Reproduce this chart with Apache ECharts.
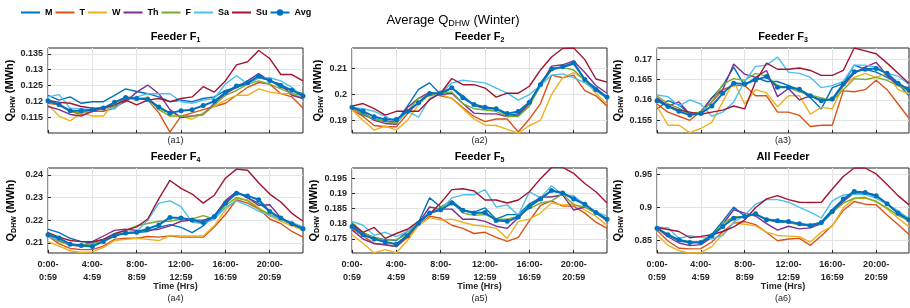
<!DOCTYPE html>
<html>
<head>
<meta charset="utf-8">
<script src="https://cdn.jsdelivr.net/npm/echarts@6/dist/echarts.min.js"></script>
<style>
html, body { margin: 0; padding: 0; background: #fff; }
#chart { width: 910px; height: 308px; }
</style>
</head>
<body>
<div id="chart"></div>
<script>
// hourly buckets 0:00-0:59 ... 23:00-23:59
const hours = [0, 1, 2, 3, 4, 5, 6, 7, 8, 9, 10, 11, 12, 13, 14, 15, 16, 17, 18, 19, 20, 21, 22, 23];
const xTicks = [0, 4, 8, 12, 16, 20];
const dayNames = ['M', 'T', 'W', 'Th', 'F', 'Sa', 'Su', 'Avg'];

// Feeder F1
const f1M = [0.1220, 0.1205, 0.1215, 0.1195, 0.1200, 0.1200, 0.1220, 0.1240, 0.1232, 0.1225, 0.1215, 0.1200, 0.1205, 0.1200, 0.1210, 0.1215, 0.1235, 0.1245, 0.1255, 0.1275, 0.1268, 0.1245, 0.1235, 0.1225];
const f1T = [0.1195, 0.1190, 0.1170, 0.1160, 0.1170, 0.1170, 0.1180, 0.1205, 0.1210, 0.1205, 0.1165, 0.1105, 0.1155, 0.1165, 0.1175, 0.1185, 0.1195, 0.1220, 0.1245, 0.1260, 0.1255, 0.1225, 0.1215, 0.1180];
const f1W = [0.1190, 0.1155, 0.1140, 0.1165, 0.1155, 0.1155, 0.1200, 0.1210, 0.1205, 0.1215, 0.1175, 0.1165, 0.1155, 0.1145, 0.1165, 0.1185, 0.1205, 0.1220, 0.1220, 0.1240, 0.1230, 0.1225, 0.1225, 0.1210];
const f1Th = [0.1185, 0.1175, 0.1160, 0.1155, 0.1170, 0.1180, 0.1185, 0.1200, 0.1230, 0.1252, 0.1225, 0.1175, 0.1150, 0.1155, 0.1160, 0.1195, 0.1225, 0.1245, 0.1265, 0.1288, 0.1265, 0.1255, 0.1220, 0.1210];
const f1F = [0.1200, 0.1190, 0.1170, 0.1165, 0.1175, 0.1180, 0.1185, 0.1215, 0.1210, 0.1210, 0.1175, 0.1155, 0.1155, 0.1155, 0.1160, 0.1190, 0.1220, 0.1235, 0.1255, 0.1265, 0.1255, 0.1240, 0.1225, 0.1220];
const f1Sa = [0.1215, 0.1222, 0.1180, 0.1178, 0.1175, 0.1185, 0.1177, 0.1210, 0.1215, 0.1225, 0.1225, 0.1225, 0.1200, 0.1195, 0.1205, 0.1210, 0.1255, 0.1282, 0.1255, 0.1275, 0.1275, 0.1265, 0.1245, 0.1215];
const f1Su = [0.1205, 0.1198, 0.1195, 0.1185, 0.1180, 0.1180, 0.1190, 0.1205, 0.1190, 0.1205, 0.1210, 0.1200, 0.1210, 0.1215, 0.1247, 0.1230, 0.1265, 0.1315, 0.1325, 0.1360, 0.1335, 0.1285, 0.1285, 0.1265];
const f1Avg = [0.1203, 0.1191, 0.1172, 0.1172, 0.1175, 0.1180, 0.1198, 0.1213, 0.1210, 0.1208, 0.1183, 0.1164, 0.1172, 0.1175, 0.1188, 0.1201, 0.1229, 0.1249, 0.1259, 0.1280, 0.1266, 0.1251, 0.1236, 0.1218];

// Feeder F2
const f2M = [0.1950, 0.1920, 0.1905, 0.1895, 0.1895, 0.1955, 0.2020, 0.2045, 0.2000, 0.2025, 0.1995, 0.1958, 0.1945, 0.1945, 0.1920, 0.1925, 0.1965, 0.2045, 0.2100, 0.2105, 0.2118, 0.2058, 0.2025, 0.1990];
const f2T = [0.1940, 0.1915, 0.1880, 0.1875, 0.1875, 0.1925, 0.1970, 0.2005, 0.1995, 0.1985, 0.1950, 0.1915, 0.1895, 0.1905, 0.1905, 0.1855, 0.1905, 0.1965, 0.2075, 0.2065, 0.2075, 0.2015, 0.1995, 0.1955];
const f2W = [0.1940, 0.1900, 0.1862, 0.1878, 0.1862, 0.1900, 0.1960, 0.2000, 0.2000, 0.1985, 0.1945, 0.1905, 0.1882, 0.1880, 0.1865, 0.1850, 0.1880, 0.1900, 0.2000, 0.2065, 0.2085, 0.2055, 0.2005, 0.1963];
const f2Th = [0.1945, 0.1930, 0.1900, 0.1888, 0.1885, 0.1950, 0.1985, 0.2008, 0.2000, 0.2005, 0.1965, 0.1928, 0.1925, 0.1925, 0.1915, 0.1920, 0.1965, 0.2035, 0.2110, 0.2115, 0.2130, 0.2085, 0.2035, 0.2005];
const f2F = [0.1948, 0.1925, 0.1905, 0.1895, 0.1890, 0.1935, 0.1985, 0.1995, 0.2005, 0.2010, 0.1965, 0.1945, 0.1940, 0.1935, 0.1915, 0.1915, 0.1955, 0.2035, 0.2095, 0.2105, 0.2095, 0.2055, 0.2015, 0.1985];
const f2Sa = [0.1950, 0.1945, 0.1935, 0.1915, 0.1895, 0.1935, 0.1912, 0.1985, 0.2005, 0.2045, 0.2055, 0.2050, 0.2045, 0.2025, 0.2005, 0.1978, 0.2000, 0.2035, 0.2075, 0.2080, 0.2065, 0.2045, 0.2015, 0.1990];
const f2Su = [0.1955, 0.1965, 0.1945, 0.1920, 0.1935, 0.1935, 0.1935, 0.1980, 0.2005, 0.2062, 0.2038, 0.2038, 0.2025, 0.1990, 0.2005, 0.2005, 0.2032, 0.2095, 0.2145, 0.2178, 0.2180, 0.2135, 0.2060, 0.2048];
const f2Avg = [0.1951, 0.1935, 0.1914, 0.1903, 0.1903, 0.1935, 0.1968, 0.2004, 0.2006, 0.2026, 0.1987, 0.1961, 0.1951, 0.1945, 0.1926, 0.1934, 0.1970, 0.2039, 0.2099, 0.2107, 0.2123, 0.2058, 0.2019, 0.1990];

// Feeder F3
const f3M = [0.1578, 0.1598, 0.1588, 0.1565, 0.1570, 0.1605, 0.1635, 0.1680, 0.1635, 0.1655, 0.1645, 0.1645, 0.1635, 0.1625, 0.1605, 0.1578, 0.1630, 0.1640, 0.1685, 0.1675, 0.1668, 0.1655, 0.1640, 0.1610];
const f3T = [0.1590, 0.1570, 0.1560, 0.1550, 0.1572, 0.1595, 0.1625, 0.1635, 0.1635, 0.1610, 0.1610, 0.1570, 0.1570, 0.1562, 0.1535, 0.1538, 0.1538, 0.1622, 0.1620, 0.1625, 0.1648, 0.1625, 0.1590, 0.1555];
const f3W = [0.1585, 0.1538, 0.1538, 0.1520, 0.1530, 0.1545, 0.1595, 0.1645, 0.1590, 0.1625, 0.1617, 0.1583, 0.1610, 0.1610, 0.1565, 0.1582, 0.1578, 0.1635, 0.1655, 0.1665, 0.1655, 0.1665, 0.1625, 0.1615];
const f3Th = [0.1605, 0.1585, 0.1595, 0.1565, 0.1570, 0.1605, 0.1625, 0.1688, 0.1663, 0.1655, 0.1672, 0.1608, 0.1628, 0.1600, 0.1610, 0.1600, 0.1600, 0.1635, 0.1665, 0.1680, 0.1692, 0.1660, 0.1635, 0.1630];
const f3F = [0.1610, 0.1590, 0.1580, 0.1565, 0.1570, 0.1595, 0.1638, 0.1652, 0.1648, 0.1665, 0.1658, 0.1635, 0.1630, 0.1620, 0.1612, 0.1605, 0.1598, 0.1625, 0.1652, 0.1650, 0.1655, 0.1648, 0.1635, 0.1622];
const f3Sa = [0.1612, 0.1608, 0.1585, 0.1600, 0.1590, 0.1560, 0.1570, 0.1595, 0.1645, 0.1682, 0.1685, 0.1705, 0.1668, 0.1665, 0.1655, 0.1630, 0.1635, 0.1645, 0.1685, 0.1685, 0.1680, 0.1665, 0.1658, 0.1638];
const f3Su = [0.1600, 0.1585, 0.1575, 0.1570, 0.1565, 0.1570, 0.1575, 0.1585, 0.1578, 0.1645, 0.1690, 0.1675, 0.1675, 0.1678, 0.1672, 0.1660, 0.1660, 0.1672, 0.1727, 0.1720, 0.1713, 0.1690, 0.1665, 0.1640];
const f3Avg = [0.1598, 0.1584, 0.1572, 0.1563, 0.1567, 0.1585, 0.1616, 0.1641, 0.1639, 0.1649, 0.1657, 0.1631, 0.1631, 0.1626, 0.1610, 0.1598, 0.1602, 0.1639, 0.1669, 0.1675, 0.1677, 0.1665, 0.1641, 0.1624];

// Feeder F4
const f4M = [0.2160, 0.2145, 0.2120, 0.2105, 0.2100, 0.2115, 0.2135, 0.2140, 0.2145, 0.2150, 0.2168, 0.2180, 0.2168, 0.2145, 0.2175, 0.2220, 0.2285, 0.2325, 0.2298, 0.2275, 0.2240, 0.2205, 0.2180, 0.2160];
const f4T = [0.2130, 0.2095, 0.2075, 0.2070, 0.2070, 0.2085, 0.2115, 0.2120, 0.2120, 0.2128, 0.2125, 0.2130, 0.2125, 0.2125, 0.2125, 0.2170, 0.2225, 0.2290, 0.2275, 0.2250, 0.2205, 0.2185, 0.2150, 0.2125];
const f4W = [0.2105, 0.2085, 0.2065, 0.2058, 0.2060, 0.2080, 0.2110, 0.2115, 0.2120, 0.2115, 0.2110, 0.2132, 0.2130, 0.2130, 0.2130, 0.2175, 0.2245, 0.2295, 0.2290, 0.2255, 0.2220, 0.2195, 0.2175, 0.2155];
const f4Th = [0.2135, 0.2110, 0.2090, 0.2085, 0.2105, 0.2130, 0.2155, 0.2160, 0.2155, 0.2155, 0.2160, 0.2175, 0.2195, 0.2200, 0.2200, 0.2215, 0.2285, 0.2325, 0.2300, 0.2265, 0.2268, 0.2210, 0.2185, 0.2165];
const f4F = [0.2135, 0.2105, 0.2090, 0.2090, 0.2095, 0.2110, 0.2140, 0.2155, 0.2175, 0.2185, 0.2195, 0.2195, 0.2205, 0.2205, 0.2220, 0.2205, 0.2265, 0.2300, 0.2285, 0.2250, 0.2225, 0.2205, 0.2185, 0.2160];
const f4Sa = [0.2125, 0.2115, 0.2095, 0.2085, 0.2090, 0.2105, 0.2135, 0.2145, 0.2150, 0.2200, 0.2275, 0.2285, 0.2260, 0.2190, 0.2185, 0.2205, 0.2255, 0.2285, 0.2265, 0.2240, 0.2220, 0.2205, 0.2190, 0.2170];
const f4Su = [0.2145, 0.2125, 0.2110, 0.2105, 0.2105, 0.2115, 0.2140, 0.2155, 0.2170, 0.2205, 0.2295, 0.2375, 0.2340, 0.2315, 0.2275, 0.2310, 0.2385, 0.2425, 0.2420, 0.2365, 0.2315, 0.2280, 0.2230, 0.2195];
const f4Avg = [0.2135, 0.2121, 0.2094, 0.2088, 0.2084, 0.2106, 0.2131, 0.2143, 0.2146, 0.2162, 0.2179, 0.2212, 0.2209, 0.2201, 0.2190, 0.2216, 0.2275, 0.2319, 0.2307, 0.2290, 0.2238, 0.2209, 0.2184, 0.2162];

// Feeder F5
const f5M = [0.1795, 0.1770, 0.1755, 0.1748, 0.1745, 0.1775, 0.1805, 0.1885, 0.1855, 0.1875, 0.1845, 0.1838, 0.1852, 0.1815, 0.1830, 0.1830, 0.1865, 0.1885, 0.1908, 0.1900, 0.1885, 0.1865, 0.1835, 0.1815];
const f5T = [0.1785, 0.1760, 0.1735, 0.1730, 0.1725, 0.1755, 0.1795, 0.1825, 0.1818, 0.1795, 0.1785, 0.1768, 0.1772, 0.1755, 0.1742, 0.1755, 0.1810, 0.1860, 0.1875, 0.1858, 0.1858, 0.1835, 0.1805, 0.1785];
const f5W = [0.1765, 0.1735, 0.1705, 0.1715, 0.1705, 0.1745, 0.1795, 0.1820, 0.1812, 0.1815, 0.1805, 0.1795, 0.1792, 0.1785, 0.1752, 0.1808, 0.1815, 0.1835, 0.1868, 0.1862, 0.1865, 0.1845, 0.1825, 0.1795];
const f5Th = [0.1780, 0.1750, 0.1735, 0.1732, 0.1725, 0.1760, 0.1802, 0.1855, 0.1848, 0.1848, 0.1815, 0.1815, 0.1808, 0.1792, 0.1785, 0.1820, 0.1855, 0.1888, 0.1888, 0.1895, 0.1845, 0.1855, 0.1835, 0.1810];
const f5F = [0.1805, 0.1770, 0.1755, 0.1745, 0.1748, 0.1765, 0.1805, 0.1835, 0.1855, 0.1872, 0.1835, 0.1828, 0.1830, 0.1815, 0.1815, 0.1825, 0.1850, 0.1868, 0.1875, 0.1898, 0.1862, 0.1855, 0.1835, 0.1815];
const f5Sa = [0.1808, 0.1795, 0.1762, 0.1772, 0.1758, 0.1775, 0.1805, 0.1838, 0.1845, 0.1885, 0.1895, 0.1895, 0.1912, 0.1855, 0.1862, 0.1828, 0.1905, 0.1885, 0.1925, 0.1895, 0.1892, 0.1862, 0.1840, 0.1825];
const f5Su = [0.1800, 0.1772, 0.1788, 0.1752, 0.1768, 0.1782, 0.1808, 0.1832, 0.1868, 0.1912, 0.1915, 0.1908, 0.1878, 0.1878, 0.1868, 0.1878, 0.1905, 0.1948, 0.1985, 0.1985, 0.1965, 0.1932, 0.1905, 0.1868];
const f5Avg = [0.1791, 0.1764, 0.1750, 0.1740, 0.1733, 0.1761, 0.1802, 0.1835, 0.1846, 0.1868, 0.1844, 0.1835, 0.1837, 0.1811, 0.1808, 0.1822, 0.1857, 0.1881, 0.1909, 0.1901, 0.1881, 0.1864, 0.1837, 0.1815];

// All feeders
const f6M = [0.8685, 0.8585, 0.8490, 0.8465, 0.8475, 0.8590, 0.8790, 0.9005, 0.8870, 0.8895, 0.8815, 0.8780, 0.8775, 0.8740, 0.8720, 0.8780, 0.8970, 0.9130, 0.9220, 0.9220, 0.9175, 0.9055, 0.8915, 0.8805];
const f6T = [0.8655, 0.8490, 0.8380, 0.8370, 0.8375, 0.8475, 0.8630, 0.8765, 0.8785, 0.8740, 0.8620, 0.8495, 0.8520, 0.8530, 0.8425, 0.8570, 0.8725, 0.8955, 0.9090, 0.9050, 0.9040, 0.8885, 0.8740, 0.8590];
const f6W = [0.8585, 0.8425, 0.8345, 0.8305, 0.8315, 0.8405, 0.8595, 0.8765, 0.8745, 0.8720, 0.8625, 0.8575, 0.8565, 0.8555, 0.8475, 0.8625, 0.8715, 0.8995, 0.9135, 0.9140, 0.9100, 0.8975, 0.8840, 0.8705];
const f6Th = [0.8685, 0.8555, 0.8460, 0.8420, 0.8435, 0.8545, 0.8745, 0.8965, 0.8915, 0.8870, 0.8755, 0.8655, 0.8715, 0.8675, 0.8690, 0.8755, 0.8925, 0.9090, 0.9225, 0.9225, 0.9185, 0.9060, 0.8915, 0.8785];
const f6F = [0.8680, 0.8595, 0.8505, 0.8480, 0.8485, 0.8560, 0.8755, 0.8860, 0.8855, 0.8895, 0.8825, 0.8805, 0.8765, 0.8745, 0.8745, 0.8765, 0.8925, 0.9065, 0.9140, 0.9155, 0.9085, 0.8995, 0.8880, 0.8795];
const f6Sa = [0.8705, 0.8690, 0.8530, 0.8570, 0.8545, 0.8525, 0.8575, 0.8775, 0.8880, 0.9050, 0.9120, 0.9120, 0.9080, 0.9000, 0.8930, 0.8840, 0.9100, 0.9190, 0.9200, 0.9200, 0.9140, 0.9050, 0.8950, 0.8830];
const f6Su = [0.8695, 0.8665, 0.8635, 0.8540, 0.8560, 0.8585, 0.8635, 0.8705, 0.8810, 0.9000, 0.9130, 0.9180, 0.9120, 0.9080, 0.9075, 0.9080, 0.9280, 0.9470, 0.9600, 0.9600, 0.9510, 0.9350, 0.9180, 0.9040];
const f6Avg = [0.8685, 0.8584, 0.8508, 0.8467, 0.8467, 0.8569, 0.8711, 0.8838, 0.8863, 0.8904, 0.8812, 0.8797, 0.8787, 0.8751, 0.8721, 0.8772, 0.8939, 0.9127, 0.9244, 0.9228, 0.9178, 0.9056, 0.8914, 0.8812];

// y extents and tick labels per panel
const yRanges = [[0.1102, 0.1368], [0.1851, 0.2180], [0.1519, 0.1727], [0.2055, 0.2430], [0.1704, 0.1983], [0.8308, 0.9600]];
const yTicks1 = [0.115, 0.12, 0.125, 0.13, 0.135];
const yTicks2 = [0.19, 0.2, 0.21];
const yTicks3 = [0.155, 0.16, 0.165, 0.17];
const yTicks4 = [0.21, 0.22, 0.23, 0.24];
const yTicks5 = [0.175, 0.18, 0.185, 0.19, 0.195];
const yTicks6 = [0.85, 0.9, 0.95];

const panelTitles = ['1', '2', '3', '4', '5', null];
const panelTags = ['(a1)', '(a2)', '(a3)', '(a4)', '(a5)', '(a6)'];

const feeders = [
    [f1M, f1T, f1W, f1Th, f1F, f1Sa, f1Su, f1Avg],
    [f2M, f2T, f2W, f2Th, f2F, f2Sa, f2Su, f2Avg],
    [f3M, f3T, f3W, f3Th, f3F, f3Sa, f3Su, f3Avg],
    [f4M, f4T, f4W, f4Th, f4F, f4Sa, f4Su, f4Avg],
    [f5M, f5T, f5W, f5Th, f5F, f5Sa, f5Su, f5Avg],
    [f6M, f6T, f6W, f6Th, f6F, f6Sa, f6Su, f6Avg]
];
const yTicks = [yTicks1, yTicks2, yTicks3, yTicks4, yTicks5, yTicks6];

(function () {
    let chart = echarts.init(document.querySelector('#chart'));

    const colors = ['#0072BD', '#D95319', '#EDB120', '#7E2F8E', '#77AC30', '#4DBEEE', '#A2142F', '#0072BD'];
    const lefts = [48, 352, 657];
    const widths = [255, 255, 252];
    const tops = [48, 168];
    const nameGaps = [30, 27, 32];
    const axisColor = '#262626';
    const gridColor = '#e3e3e3';

    let grids = [], xAxes = [], yAxes = [], series = [], graphics = [];

    feeders.forEach((rows, p) => {
        const col = p % 3, row = Math.floor(p / 3);
        const bottom = row === 1;
        grids.push({
            left: lefts[col], top: tops[row], width: widths[col], height: 85,
            show: true, borderColor: axisColor, borderWidth: 1, backgroundColor: '#fff'
        });
        xAxes.push({
            type: 'value', gridIndex: p, min: 0, max: 23,
            axisLine: { show: false },
            axisTick: { show: true, inside: true, length: 3, customValues: xTicks, lineStyle: { color: axisColor } },
            axisLabel: {
                show: bottom, customValues: xTicks,
                formatter: v => v + ':00-\n' + v + ':59',
                color: axisColor, fontSize: 9, fontWeight: 'bold', lineHeight: 13, margin: 5
            },
            splitLine: { show: true, lineStyle: { color: gridColor, width: 1 } }
        });
        yAxes.push({
            type: 'value', gridIndex: p, min: yRanges[p][0], max: yRanges[p][1],
            axisLine: { show: false },
            axisTick: { show: true, inside: true, length: 3, customValues: yTicks[p], lineStyle: { color: axisColor } },
            axisLabel: {
                customValues: yTicks[p],
                formatter: v => String(+v.toFixed(4)),
                color: axisColor, fontSize: 9, fontWeight: 'bold', margin: 5
            },
            splitLine: { show: true, lineStyle: { color: gridColor, width: 1 } },
            name: '{q|Q}{s|DHW}{q| (MWh)}',
            nameLocation: 'middle', nameGap: nameGaps[col],
            nameTextStyle: {
                rich: {
                    q: { fontSize: 11, fontWeight: 'bold', color: '#000' },
                    s: { fontSize: 7, fontWeight: 'bold', color: '#000', padding: [7, 0, 0, 0] }
                }
            }
        });

        rows.forEach((vals, d) => {
            const isAvg = d === 7;
            series.push({
                type: 'line', name: dayNames[d],
                xAxisIndex: p, yAxisIndex: p,
                data: hours.map((h, k) => [h, vals[k]]),
                symbol: isAvg ? 'circle' : 'none',
                symbolSize: 5,
                lineStyle: { width: isAvg ? 2 : 1.4, color: colors[d] },
                itemStyle: { color: colors[d] },
                z: isAvg ? 4 : 2,
                emphasis: { disabled: true }
            });
        });

        // subplot title, tag, x axis title
        const cx = lefts[col] + widths[col] / 2;
        const ty = tops[row] - 11;
        graphics.push({
            type: 'text', x: cx, y: ty,
            style: {
                text: panelTitles[p] ? '{b|Feeder F}{s|' + panelTitles[p] + '}' : '{b|All Feeder}',
                rich: {
                    b: { fontSize: 11, fontWeight: 'bold', fill: '#000' },
                    s: { fontSize: 7, fontWeight: 'bold', fill: '#000', padding: [7, 0, 0, 0] }
                },
                align: 'center', verticalAlign: 'middle'
            }
        });
        graphics.push({
            type: 'text', x: cx, y: bottom ? 299 : 141,
            style: { text: panelTags[p], fontSize: 9, fill: axisColor, align: 'center', verticalAlign: 'middle' }
        });
        if (bottom) {
            graphics.push({
                type: 'text', x: cx, y: 287,
                style: { text: 'Time (Hrs)', fontSize: 9, fontWeight: 'bold', fill: axisColor, align: 'center', verticalAlign: 'middle' }
            });
        }
    });

    graphics.push({
        type: 'text', x: 453, y: 20,
        style: {
            text: '{a|Average Q}{s|DHW}{a| (Winter)}',
            rich: {
                a: { fontSize: 13, fill: '#000' },
                s: { fontSize: 9, fill: '#000', padding: [8, 0, 0, 0] }
            },
            align: 'center', verticalAlign: 'middle'
        }
    });

    // day lines show only a line in the legend, Avg keeps its dot
    const legendData = dayNames.map(n => n === 'Avg' ? { name: n } : { name: n, itemStyle: { opacity: 0 } });

    let option = {
        animation: false,
        textStyle: { fontFamily: 'Liberation Sans, Arial, sans-serif' },
        legend: {
            data: legendData,
            left: 20, top: 8, padding: 0,
            itemWidth: 19, itemHeight: 8, itemGap: 2,
            textStyle: { fontSize: 9, fontWeight: 'bold', color: '#000' }
        },
        grid: grids,
        xAxis: xAxes,
        yAxis: yAxes,
        series: series,
        graphic: graphics
    };
    chart.setOption(option);
})();
</script>
</body>
</html>
